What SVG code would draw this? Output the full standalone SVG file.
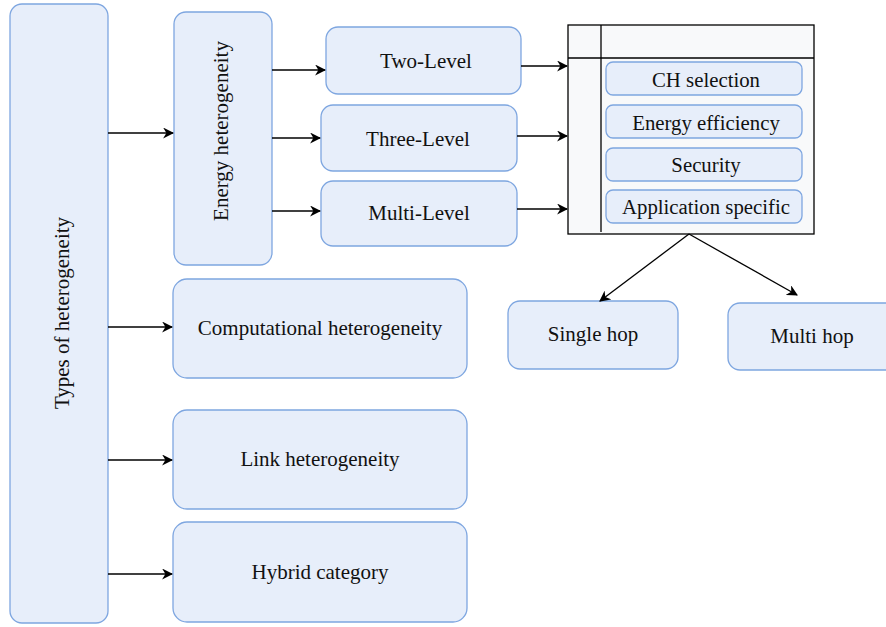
<svg xmlns="http://www.w3.org/2000/svg" width="886" height="627" viewBox="0 0 886 627">
<style>
.n{fill:#e7eefa;stroke:#7ea6e0;stroke-width:1.3}
.t{font-family:"Liberation Serif","DejaVu Serif",serif;font-size:21px;fill:#111;text-anchor:middle;dominant-baseline:central}
.s{font-size:20.8px}
.c{fill:none;stroke:#000;stroke-width:1.3}
</style>
<defs>
<marker id="a" viewBox="0 0 10 10" refX="9" refY="5" markerWidth="11" markerHeight="11" markerUnits="userSpaceOnUse" orient="auto">
<path d="M0,0 L10,5 L0,10 L3,5 z" fill="#000"/>
</marker>
</defs>
<rect width="886" height="627" fill="#fff"/>
<g id="types"><rect class="n" x="10" y="4" width="98" height="619" rx="12"/><text class="t" transform="translate(62,313) rotate(-90)">Types of heterogeneity</text></g>
<g id="energy"><rect class="n" x="174" y="12" width="98" height="253" rx="12"/><text class="t" transform="translate(221,131) rotate(-90)">Energy heterogeneity</text></g>
<g id="two"><rect class="n" x="326" y="27" width="195" height="67" rx="12"/><text class="t" x="426" y="61">Two-Level</text></g>
<g id="three"><rect class="n" x="321" y="105" width="196" height="66" rx="12"/><text class="t" x="418" y="139">Three-Level</text></g>
<g id="multi"><rect class="n" x="321" y="181" width="196" height="65" rx="12"/><text class="t" x="419" y="213">Multi-Level</text></g>
<g id="container">
<rect x="568" y="25" width="246" height="209" fill="#f8f9fa" stroke="#000" stroke-width="1.3"/>
<line x1="568" y1="58" x2="814" y2="58" stroke="#000" stroke-width="1.3"/>
<line x1="601" y1="25" x2="601" y2="232" stroke="#000" stroke-width="1.3"/>
</g>
<g id="ch"><rect class="n" x="606" y="62" width="196" height="33" rx="7"/><text class="t s" x="706" y="79">CH selection</text></g>
<g id="ee"><rect class="n" x="606" y="105" width="196" height="33" rx="7"/><text class="t s" x="706" y="122">Energy efficiency</text></g>
<g id="sec"><rect class="n" x="606" y="148" width="196" height="33" rx="7"/><text class="t s" x="706" y="164">Security</text></g>
<g id="app"><rect class="n" x="606" y="190" width="196" height="33" rx="7"/><text class="t s" x="706" y="206">Application specific</text></g>
<g id="single"><rect class="n" x="508" y="301" width="170" height="68" rx="12"/><text class="t" x="593" y="334">Single hop</text></g>
<g id="multihop"><rect class="n" x="728" y="303" width="170" height="67" rx="12"/><text class="t" x="812" y="336">Multi hop</text></g>
<g id="comp"><rect class="n" x="173" y="279" width="294" height="99" rx="14"/><text class="t" x="320" y="328">Computational heterogeneity</text></g>
<g id="link"><rect class="n" x="173" y="410" width="294" height="99" rx="14"/><text class="t" x="320" y="459">Link heterogeneity</text></g>
<g id="hybrid"><rect class="n" x="173" y="522" width="294" height="100" rx="14"/><text class="t" x="320" y="572">Hybrid category</text></g>
<g id="connectors">
<line class="c" x1="108" y1="133" x2="173" y2="133" marker-end="url(#a)"/>
<line class="c" x1="108" y1="327" x2="172" y2="327" marker-end="url(#a)"/>
<line class="c" x1="108" y1="460" x2="172" y2="460" marker-end="url(#a)"/>
<line class="c" x1="108" y1="574" x2="172" y2="574" marker-end="url(#a)"/>
<line class="c" x1="272" y1="70" x2="325" y2="70" marker-end="url(#a)"/>
<line class="c" x1="272" y1="138" x2="320" y2="138" marker-end="url(#a)"/>
<line class="c" x1="272" y1="211" x2="320" y2="211" marker-end="url(#a)"/>
<line class="c" x1="521" y1="66" x2="567" y2="66" marker-end="url(#a)"/>
<line class="c" x1="517" y1="136" x2="567" y2="136" marker-end="url(#a)"/>
<line class="c" x1="517" y1="209" x2="567" y2="209" marker-end="url(#a)"/>
<line class="c" x1="689" y1="234" x2="600" y2="301" marker-end="url(#a)"/>
<line class="c" x1="689" y1="234" x2="797" y2="295" marker-end="url(#a)"/>
</g>
</svg>
